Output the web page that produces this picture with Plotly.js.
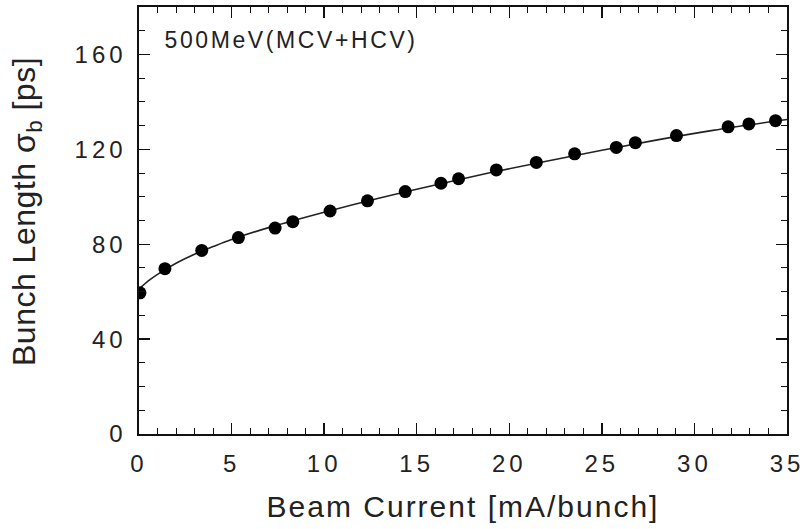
<!DOCTYPE html>
<html><head><meta charset="utf-8">
<script src="https://cdn.plot.ly/plotly-3.0.1.min.js"></script>
<style>
html,body{margin:0;padding:0;background:#fff}
#c{width:806px;height:529px}
#c .xtick text, #c .ytick text{letter-spacing:4px}
#c .g-xtitle text{letter-spacing:2px}
#c .annotation-text{letter-spacing:2.6px}
#c .annotation-text.ytitle-ann{letter-spacing:0.5px}
</style>
</head><body><div id="c"></div>
<script>
const currentData = [0.05, 1.40, 3.39, 5.37, 7.35, 8.31, 10.32, 12.34, 14.38, 16.31, 17.26, 19.30, 21.46, 23.53, 25.78, 26.81, 29.03, 31.82, 32.94, 34.38];
const lengthData  = [59.5, 69.7, 77.4, 82.8, 86.8, 89.5, 94.0, 98.3, 102.2, 105.7, 107.6, 111.3, 114.5, 118.1, 120.8, 122.8, 125.8, 129.5, 130.7, 132.1];
const fitCurrent = [0, 0.5, 1, 2, 3, 4, 5, 7, 10, 13, 16, 19, 22, 25, 28, 31, 35];
const fitLength  = [61, 64.5, 67.3, 72, 75.8, 79, 82, 87, 93.5, 99.5, 105, 110.2, 115, 119.6, 124, 128, 132.6];
const xTicks = [0, 5, 10, 15, 20, 25, 30, 35];
const yTicks = [0, 40, 80, 120, 160];
const label = '500MeV(MCV+HCV)';
const yTitle = 'Bunch Length σ<sub>b</sub> [ps]';

const font = 'Liberation Sans, Arial, Helvetica, sans-serif';
const traces = [
  {x: fitCurrent, y: fitLength, mode: 'lines', line: {color: '#222', width: 1.6, shape: 'spline'}, hoverinfo: 'skip'},
  {x: currentData, y: lengthData, mode: 'markers', marker: {color: '#000', size: 13}}
];
const axisCommon = {
  showline: true, linecolor: '#111', linewidth: 1.6, mirror: 'ticks',
  ticks: 'inside', ticklen: 11, tickwidth: 1.3, tickcolor: '#111',
  showgrid: false, zeroline: false,
  tickfont: {family: font, size: 24, color: '#222'}
};
const layout = {
  width: 806, height: 529,
  margin: {l: 139, r: 19, t: 7, b: 95},
  paper_bgcolor: '#fff', plot_bgcolor: '#fff',
  showlegend: false,
  xaxis: Object.assign({}, axisCommon, {
    range: [0, 35], tickvals: xTicks, ticktext: xTicks.map(String),
    minor: {dtick: 1, ticks: 'inside', ticklen: 6, tickcolor: '#111', tickwidth: 1},
    ticklabelstandoff: 8,
    title: {text: 'Beam Current [mA/bunch]', font: {family: font, size: 30, color: '#222'}, standoff: 19}
  }),
  yaxis: Object.assign({}, axisCommon, {
    range: [0, 180], tickvals: yTicks, ticktext: yTicks.map(String),
    minor: {dtick: 10, ticks: 'inside', ticklen: 6, tickcolor: '#111', tickwidth: 1},
    ticklabelstandoff: 6
  }),
  annotations: [{
    text: label, xref: 'paper', yref: 'paper', x: 43 / 648, y: (434 - 40) / 427,
    xanchor: 'left', yanchor: 'middle', showarrow: false,
    font: {family: font, size: 23, color: '#222'}
  }, {
    text: yTitle, xref: 'paper', yref: 'paper', x: (26 - 139) / 648, y: (434 - 212) / 427,
    xanchor: 'center', yanchor: 'middle', showarrow: false, textangle: -90,
    font: {family: font, size: 32, color: '#222'}
  }]
};
Plotly.newPlot('c', traces, layout, {staticPlot: true}).then(function () {
  const anns = document.querySelectorAll('#c .annotation-text');
  if (anns[1]) anns[1].classList.add('ytitle-ann');
});
</script></body></html>
